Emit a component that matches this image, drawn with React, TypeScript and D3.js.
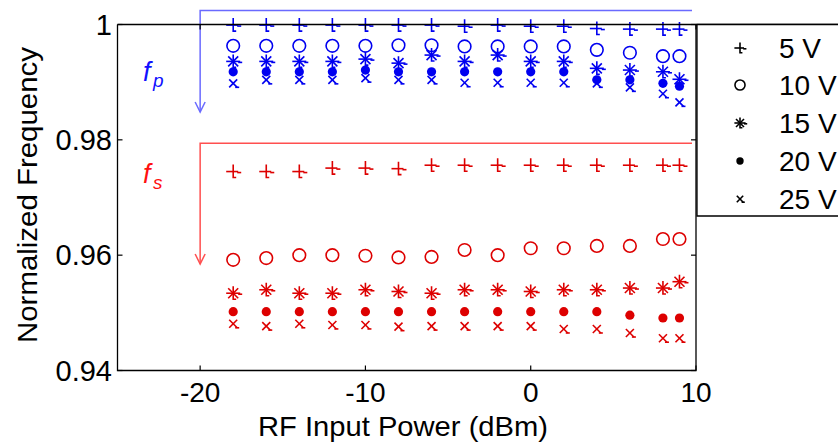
import React from "react";
import * as d3 from "d3";

const xValues = [-18, -16, -14, -12, -10, -8, -6, -4, -2, 0, 2, 4, 6, 8, 9];
const voltages = ["5 V", "10 V", "15 V", "20 V", "25 V"];
const markerTypes = ["plus", "circle", "asterisk", "dot", "x"];

const fp5 = [0.9999, 0.9999, 0.9999, 0.9999, 0.9999, 0.9999, 0.9999, 0.9997, 0.9999, 0.9997, 0.9997, 0.9993, 0.9992, 0.9992, 0.9992];
const fp10 = [0.9963, 0.9963, 0.9963, 0.9963, 0.9963, 0.9964, 0.9964, 0.9962, 0.9962, 0.9962, 0.9962, 0.9956, 0.9951, 0.9945, 0.9945];
const fp15 = [0.9936, 0.9936, 0.9936, 0.9936, 0.994, 0.9933, 0.9947, 0.9936, 0.9947, 0.9936, 0.9936, 0.9924, 0.9921, 0.9918, 0.9905];
const fp20 = [0.9918, 0.9918, 0.9918, 0.9918, 0.9921, 0.9918, 0.9918, 0.9918, 0.9918, 0.9918, 0.9918, 0.9904, 0.9904, 0.9898, 0.9893];
const fp25 = [0.9898, 0.9904, 0.9904, 0.9904, 0.9907, 0.9904, 0.9904, 0.9899, 0.9899, 0.9899, 0.9899, 0.9898, 0.9891, 0.988, 0.9865];

const fs5 = [0.9745, 0.9745, 0.9745, 0.9751, 0.9751, 0.975, 0.9756, 0.9756, 0.9756, 0.9756, 0.9756, 0.9756, 0.9756, 0.9756, 0.9756];
const fs10 = [0.9592, 0.9595, 0.96, 0.96, 0.9599, 0.9596, 0.9597, 0.9609, 0.96, 0.9612, 0.9612, 0.9616, 0.9616, 0.9628, 0.9628];
const fs15 = [0.9534, 0.954, 0.9534, 0.9534, 0.954, 0.9537, 0.9534, 0.954, 0.954, 0.9537, 0.954, 0.954, 0.9543, 0.9543, 0.9554];
const fs20 = [0.9502, 0.9502, 0.9502, 0.9502, 0.9502, 0.9502, 0.9502, 0.9502, 0.9502, 0.9502, 0.9502, 0.9502, 0.9496, 0.9491, 0.9491];
const fs25 = [0.9481, 0.9477, 0.9481, 0.9479, 0.9479, 0.9476, 0.9477, 0.9477, 0.9477, 0.9477, 0.9472, 0.9472, 0.9465, 0.9456, 0.9456];

const fpSeries = [fp5, fp10, fp15, fp20, fp25];
const fsSeries = [fs5, fs10, fs15, fs20, fs25];

const xTicks = [-20, -10, 0, 10];
const yTicks = [0.94, 0.96, 0.98, 1];
const yTickLabels = ["0.94", "0.96", "0.98", "1"];

const FONT = "'Liberation Sans', Arial, sans-serif";

function Marker({ type, cx, cy, color, s = 1 }: { type: string; cx: number; cy: number; color: string; s?: number }) {
  const sw = 1.6;
  const p = (d: string) => <path d={d} stroke={color} strokeWidth={sw} fill="none" />;
  const k = (v: number) => v * s;
  if (type === "plus") {
    return (
      <g>
        {p(`M${cx - k(7)},${cy}L${cx + k(5)},${cy}`)}
        {p(`M${cx + k(4)},${cy + k(1)}L${cx + k(8)},${cy + k(1)}`)}
        {p(`M${cx},${cy - k(7)}L${cx},${cy + k(6)}L${cx + k(3)},${cy + k(6)}`)}
      </g>
    );
  }
  if (type === "circle") {
    return <circle cx={cx} cy={cy} r={k(6.3)} stroke={color} strokeWidth={sw} fill="none" />;
  }
  if (type === "asterisk") {
    return (
      <g>
        {p(`M${cx - k(7)},${cy}L${cx + k(7)},${cy}`)}
        {p(`M${cx + k(5)},${cy + k(1)}L${cx + k(9)},${cy + k(1)}`)}
        {p(`M${cx},${cy - k(7)}L${cx},${cy + k(6)}L${cx + k(3)},${cy + k(6)}`)}
        {p(`M${cx - k(5)},${cy - k(5)}L${cx + k(5)},${cy + k(5)}`)}
        {p(`M${cx - k(5)},${cy + k(5)}L${cx + k(5)},${cy - k(5)}`)}
      </g>
    );
  }
  if (type === "dot") {
    return <circle cx={cx} cy={cy} r={k(4.6)} fill={color} />;
  }
  return (
    <g>
      {p(`M${cx - k(4)},${cy - k(4)}L${cx + k(4)},${cy + k(4)}`)}
      {p(`M${cx - k(4)},${cy + k(4)}L${cx + k(4)},${cy - k(4)}`)}
      {p(`M${cx + k(2)},${cy + k(4)}L${cx + k(6)},${cy + k(4)}`)}
    </g>
  );
}

export default function App() {
  const W = 838;
  const H = 442;
  const x = d3.scaleLinear().domain([-25, 10]).range([117.5, 696]);
  const y = d3.scaleLinear().domain([0.94, 1]).range([370.5, 24.5]);
  const left = x(-25);
  const right = x(10);
  const top = y(1);
  const bottom = y(0.94);

  const blueM = "#0000f0";
  const redM = "#dd0000";
  const blueA = "#6a6aff";
  const redA = "#ff4f4f";

  const arrowX = x(-20);
  const annEnd = 692;
  const blueTop = 10.5;
  const blueTip = 112;
  const redTop = y(0.9794);
  const redTip = 264;

  const legendRows = [48, 85, 123, 161, 199];

  return (
    <svg width={W} height={H} style={{ position: "absolute", left: 0, top: 0, background: "#fff" }} fontFamily={FONT}>
      <rect x={0} y={0} width={W} height={H} fill="#fff" />

      {/* annotations */}
      <path d={`M${arrowX},${blueTip}L${arrowX},${blueTop}L${annEnd},${blueTop}`} stroke={blueA} strokeWidth={1.5} fill="none" />
      <path d={`M${arrowX - 5},${blueTip - 10}L${arrowX},${blueTip}L${arrowX + 5},${blueTip - 10}`} stroke={blueA} strokeWidth={1.5} fill="none" />
      <path d={`M${arrowX},${redTip}L${arrowX},${redTop}L${annEnd},${redTop}`} stroke={redA} strokeWidth={1.5} fill="none" />
      <path d={`M${arrowX - 5},${redTip - 10}L${arrowX},${redTip}L${arrowX + 5},${redTip - 10}`} stroke={redA} strokeWidth={1.5} fill="none" />

      <text x={143} y={81} fontSize={27} fontStyle="italic" fill="#1010ff">f</text>
      <text x={153} y={87} fontSize={19} fontStyle="italic" fill="#1010ff">p</text>
      <text x={143} y={183} fontSize={27} fontStyle="italic" fill="#ff1010">f</text>
      <text x={153} y={189} fontSize={19} fontStyle="italic" fill="#ff1010">s</text>

      {/* data */}
      {fpSeries.map((ser, si) =>
        ser.map((v, i) => <Marker key={`fp${si}-${i}`} type={markerTypes[si]} cx={x(xValues[i])} cy={y(v)} color={blueM} />)
      )}
      {fsSeries.map((ser, si) =>
        ser.map((v, i) => <Marker key={`fs${si}-${i}`} type={markerTypes[si]} cx={x(xValues[i])} cy={y(v)} color={redM} />)
      )}

      {/* axes box */}
      <path d={`M${left},${top}L${left},${bottom}L${right},${bottom}L${right},${top}`} stroke="#000" strokeWidth={1.3} fill="none" />
      <path d={`M${left},${top}L${W},${top}`} stroke="#000" strokeWidth={1.3} />
      {yTicks.map((t) => (
        <g key={`yt${t}`}>
          <path d={`M${left},${y(t)}L${left + 5},${y(t)}`} stroke="#000" strokeWidth={1.2} />
          <path d={`M${right},${y(t)}L${right - 5},${y(t)}`} stroke="#000" strokeWidth={1.2} />
        </g>
      ))}
      {xTicks.map((t) => (
        <g key={`xt${t}`}>
          <path d={`M${x(t)},${bottom}L${x(t)},${bottom - 5}`} stroke="#000" strokeWidth={1.2} />
          <path d={`M${x(t)},${top}L${x(t)},${top + 5}`} stroke="#000" strokeWidth={1.2} />
        </g>
      ))}
      {yTicks.map((t, i) => (
        <text key={`yl${t}`} x={112} y={y(t) + 10} fontSize={29} textAnchor="end" fill="#000">
          {yTickLabels[i]}
        </text>
      ))}
      {xTicks.map((t) => (
        <text key={`xl${t}`} x={x(t)} y={402} fontSize={28} textAnchor="middle" fill="#000">
          {String(t)}
        </text>
      ))}
      <text x={403} y={436} fontSize={28} textAnchor="middle" fill="#000" textLength={290} lengthAdjust="spacingAndGlyphs">
        RF Input Power (dBm)
      </text>
      <text
        transform={`translate(36.5,195) rotate(-90)`}
        fontSize={28}
        textAnchor="middle"
        fill="#000"
        textLength={296}
        lengthAdjust="spacingAndGlyphs"
      >
        Normalized Frequency
      </text>

      {/* legend */}
      <rect x={697} y={top} width={W} height={216 - top} fill="#fff" />
      <path d={`M${W + 2},${top}L697,${top}L697,216L${W + 2},216`} stroke="#000" strokeWidth={1.3} fill="none" />
      {voltages.map((vl, i) => (
        <g key={vl}>
          <Marker type={markerTypes[i]} cx={740} cy={legendRows[i]} color="#000" s={0.8} />
          <text x={779} y={legendRows[i] + 10} fontSize={28} fill="#000">
            {vl}
          </text>
        </g>
      ))}
    </svg>
  );
}
